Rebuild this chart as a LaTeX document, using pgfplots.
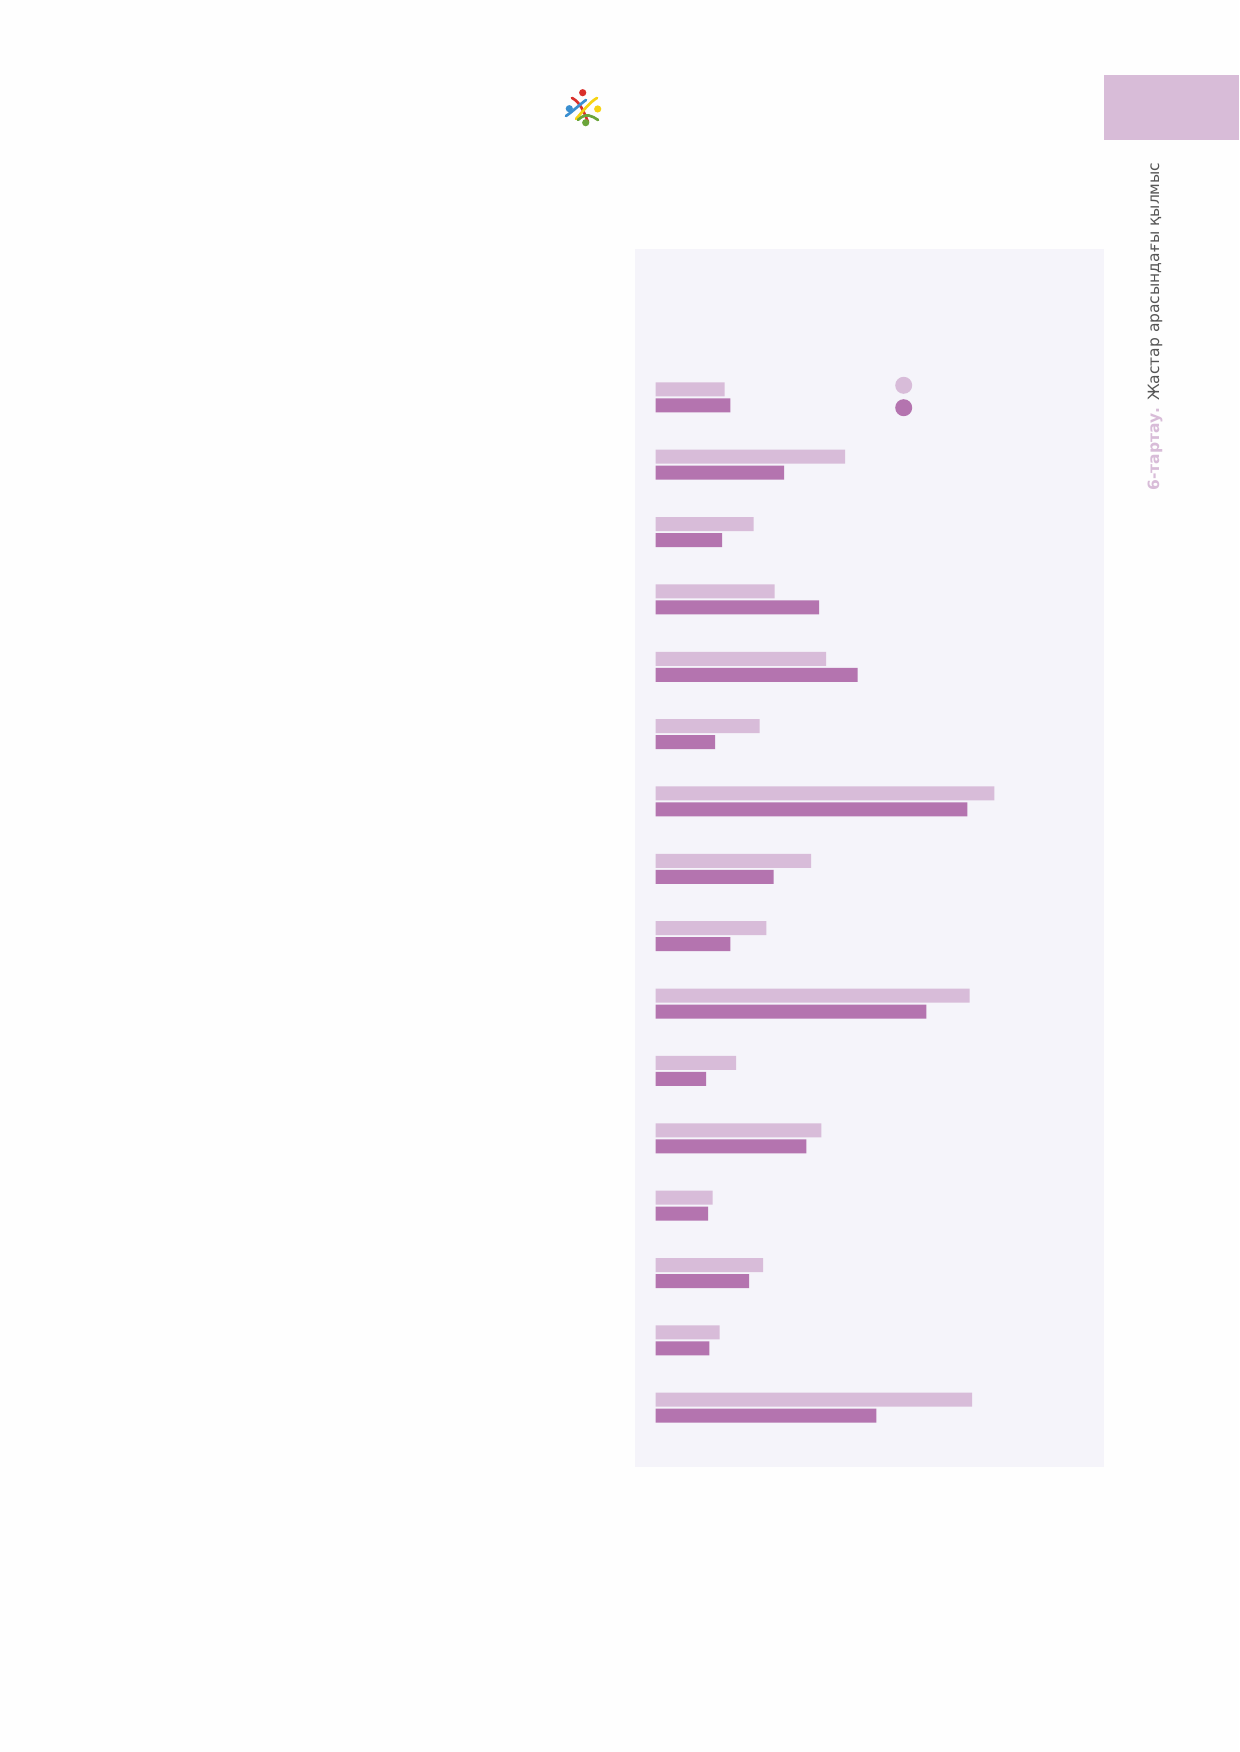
\documentclass[border=0pt]{standalone}
\usepackage{pgfplots}
\usepackage{pgfplotstable}
\pgfplotsset{compat=1.18}
\usepackage{fontspec}
\setmainfont{DejaVu Sans}
\definecolor{pagebg}{HTML}{FEFEFE}
\definecolor{panelbg}{HTML}{F5F4FA}
\definecolor{lightc}{HTML}{D8BCD9}
\definecolor{darkc}{HTML}{B474AF}
\definecolor{tabc}{HTML}{D8BCD8}
\definecolor{titlegray}{HTML}{555555}
\definecolor{logored}{HTML}{D9302C}
\definecolor{logoyellow}{HTML}{F6D312}
\definecolor{logogreen}{HTML}{6BA53A}
\definecolor{logoblue}{HTML}{3A8FD0}

\pgfplotstableread{
c light dark
0 69.0 74.6
1 189.3 128.3
2 98.0 66.3
3 119.0 163.3
4 170.3 202.0
5 104.0 59.3
6 338.6 311.6
7 155.3 118.0
8 110.6 74.6
9 314.0 270.6
10 80.3 50.3
11 165.6 150.6
12 57.0 52.3
13 107.3 93.3
14 64.0 53.6
15 316.3 220.6
}\crimedata

\begin{document}
\begin{tikzpicture}[x=0.6pt,y=0.6pt]
\useasboundingbox (0,0) rectangle (1239,1752);
\fill[pagebg] (0,0) rectangle (1239,1752);
% side tab
\fill[tabc] (1104,1677) rectangle (1239,1612);
% panel
\fill[panelbg] (635,285) rectangle (1104,1503);
\coordinate (axpos) at (635,285);
% logo
\begin{scope}[line width=1.6pt, line cap=round]
\draw[logored] (572,1654) .. controls (580,1650) and (584,1640) .. (588,1630);
\draw[logoyellow] (597,1654) .. controls (590,1650) and (584,1642) .. (576,1633);
\draw[logoblue] (566,1636) .. controls (572,1640) and (578,1646) .. (586,1652);
\draw[logogreen] (598,1632) .. controls (592,1636) and (586,1640) .. (578,1632);
\fill[logored] (582.7,1659.3) circle (3.6);
\fill[logoyellow] (597.7,1643) circle (3.6);
\fill[logogreen] (585.7,1629.3) circle (3.6);
\fill[logoblue] (569.3,1643.3) circle (3.6);
\end{scope}
% rotated title
\node[rotate=90, anchor=west, inner sep=0pt, font=\fontsize{9.3}{12}\selectfont] at (1155,1261)
  {\textcolor{tabc}{\textbf{6-тартау.}} \textcolor{titlegray}{Жастар арасындағы қылмыс}};
\begin{axis}[
  at={(axpos)}, anchor=south west,
  scale only axis, width=281.4pt, height=730.8pt,
  xmin=-20.7, xmax=448.3, ymin=-2.2016, ymax=15.880,
  y dir=reverse,
  hide axis,
  xbar, bar width=8.4pt, bar shift=0pt,
  legend style={at={(axis cs:239.5,-0.012)}, anchor=west, draw=none, fill=none,
    inner sep=0pt, outer sep=0pt, row sep=3.24pt,
    nodes={inner sep=0pt, outer sep=0pt}},
  legend image code/.code={\fill[#1] (0pt,0pt) circle (5.1pt);},
]
\addplot[xbar, fill=lightc, draw=none] table[x=light, y expr=\thisrow{c}-0.1188] {\crimedata};
\addlegendentry{}
\addplot[xbar, fill=darkc, draw=none] table[x=dark, y expr=\thisrow{c}+0.1188] {\crimedata};
\addlegendentry{}
\end{axis}
\end{tikzpicture}
\end{document}
